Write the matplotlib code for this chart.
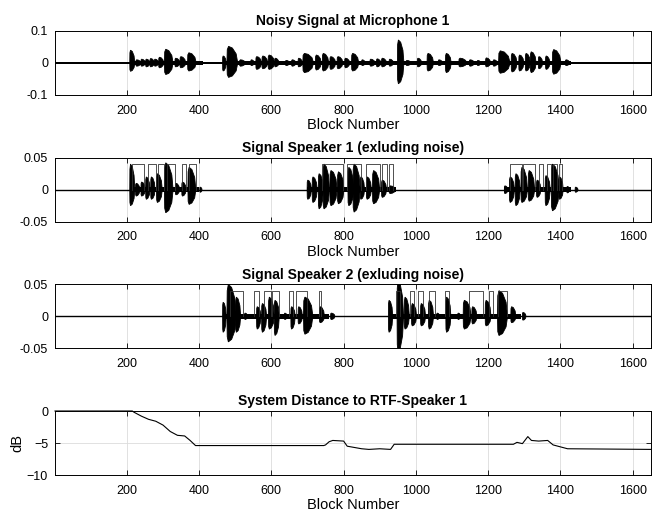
import matplotlib
matplotlib.use("Agg")
import matplotlib.pyplot as plt
from matplotlib.patches import Polygon

plt.rcParams['font.family'] = ['Liberation Sans', 'DejaVu Sans']

# ---------------- data ----------------
n_blocks = 1651

# Microphone 1: bursts (centre block, width in blocks, positive peak, negative peak)
mic_center = [215, 232, 245, 258, 270, 282, 295, 316, 340, 355, 380, 470, 492, 520, 548, 565, 582, 600, 615,
              645, 662, 680, 702, 730, 750, 770, 790, 810, 832, 855, 880, 897, 912, 932, 958, 980, 1010, 1040,
              1068, 1090, 1130, 1155, 1175, 1200, 1220, 1245, 1272, 1292, 1310, 1325, 1345, 1365, 1390, 1420]
mic_width = [14, 14, 12, 12, 12, 12, 14, 24, 14, 16, 24, 10, 30, 16, 10, 16, 16, 18, 12,
             12, 12, 12, 30, 16, 18, 16, 16, 14, 20, 10, 14, 12, 14, 12, 18, 14, 12, 18,
             12, 16, 22, 14, 10, 14, 12, 32, 16, 14, 14, 16, 12, 12, 24, 12]
mic_up = [0.040, 0.010, 0.012, 0.012, 0.014, 0.012, 0.018, 0.043, 0.015, 0.020, 0.032, 0.022, 0.052, 0.010, 0.010,
          0.020, 0.022, 0.025, 0.015, 0.008, 0.010, 0.015, 0.030, 0.025, 0.030, 0.020, 0.020, 0.015, 0.030, 0.010,
          0.012, 0.013, 0.015, 0.012, 0.072, 0.008, 0.015, 0.030, 0.010, 0.030, 0.015, 0.010, 0.008, 0.016, 0.010,
          0.038, 0.030, 0.025, 0.030, 0.035, 0.020, 0.022, 0.042, 0.010]
mic_down = [0.026, 0.010, 0.010, 0.012, 0.012, 0.010, 0.015, 0.036, 0.012, 0.015, 0.025, 0.025, 0.045, 0.010, 0.008,
            0.020, 0.018, 0.020, 0.012, 0.008, 0.010, 0.012, 0.030, 0.022, 0.025, 0.020, 0.018, 0.015, 0.025, 0.008,
            0.010, 0.012, 0.012, 0.010, 0.065, 0.008, 0.012, 0.025, 0.008, 0.030, 0.012, 0.010, 0.008, 0.012, 0.010,
            0.032, 0.028, 0.025, 0.025, 0.030, 0.018, 0.020, 0.035, 0.008]
mic_noise = 0.002
mic_active_on = [210, 465]
mic_active_off = [410, 1430]
mic_active_level = 0.005

# Speaker 1 (clean)
s1_center = [215, 230, 245, 258, 272, 290, 316, 340, 358, 380, 405, 705, 720, 737, 752, 772, 792, 820, 836, 852,
             870, 890, 912, 935, 1250, 1266, 1282, 1300, 1320, 1340, 1365, 1386, 1402, 1422, 1445]
s1_width = [14, 12, 12, 12, 12, 16, 24, 12, 12, 22, 6, 12, 14, 14, 18, 20, 18, 16, 20, 12,
            14, 20, 14, 18, 10, 14, 14, 18, 18, 12, 14, 22, 12, 8, 8]
s1_up = [0.040, 0.010, 0.012, 0.020, 0.020, 0.025, 0.042, 0.010, 0.012, 0.035, 0.004, 0.015, 0.020, 0.025, 0.040,
         0.030, 0.028, 0.035, 0.040, 0.020, 0.020, 0.030, 0.015, 0.006, 0.006, 0.020, 0.025, 0.035, 0.030, 0.015,
         0.022, 0.040, 0.020, 0.005, 0.004]
s1_down = [0.025, 0.010, 0.010, 0.015, 0.015, 0.020, 0.036, 0.008, 0.010, 0.023, 0.004, 0.015, 0.020, 0.030, 0.030,
           0.025, 0.022, 0.025, 0.035, 0.015, 0.015, 0.022, 0.012, 0.006, 0.006, 0.020, 0.025, 0.020, 0.018, 0.012,
           0.025, 0.033, 0.015, 0.005, 0.004]
s1_active_on = [210, 700, 1245]
s1_active_off = [400, 945, 1430]
s1_vad_on = [215, 258, 287, 310, 352, 372, 740, 810, 862, 906, 925, 1262, 1298, 1340, 1362, 1380, 1396]
s1_vad_off = [248, 280, 303, 332, 365, 390, 797, 848, 900, 920, 938, 1295, 1330, 1352, 1375, 1392, 1405]

# Speaker 2 (clean)
s2_center = [470, 490, 508, 530, 565, 580, 600, 615, 640, 660, 680, 702, 740, 770, 930, 957, 975, 995, 1020,
             1042, 1062, 1090, 1120, 1142, 1162, 1200, 1240, 1270, 1300]
s2_width = [10, 26, 14, 8, 12, 14, 16, 14, 8, 12, 12, 26, 14, 12, 12, 18, 14, 14, 14,
            14, 8, 14, 8, 22, 14, 16, 28, 14, 10]
s2_up = [0.022, 0.050, 0.030, 0.005, 0.015, 0.020, 0.030, 0.025, 0.005, 0.015, 0.015, 0.030, 0.015, 0.005, 0.025,
         0.055, 0.030, 0.020, 0.020, 0.025, 0.005, 0.030, 0.005, 0.025, 0.015, 0.025, 0.040, 0.015, 0.006]
s2_down = [0.025, 0.040, 0.025, 0.005, 0.020, 0.025, 0.020, 0.030, 0.005, 0.020, 0.012, 0.028, 0.010, 0.005, 0.025,
           0.055, 0.020, 0.015, 0.015, 0.020, 0.005, 0.025, 0.005, 0.020, 0.012, 0.015, 0.030, 0.010, 0.006]
s2_active_on = [465, 925]
s2_active_off = [760, 1290]
s2_vad_on = [485, 552, 580, 603, 650, 668, 733, 944, 985, 1005, 1036, 1082, 1148, 1203, 1228]
s2_vad_off = [522, 565, 600, 620, 660, 700, 738, 955, 996, 1020, 1052, 1093, 1186, 1214, 1252]
vad_level = 0.04
speech_floor = 0.004

# System distance (dB)
dist_block = [1, 215, 220, 240, 260, 280, 300, 320, 340, 360, 375, 390, 745, 750, 760, 770, 800, 810, 830, 850,
              870, 900, 930, 940, 1270, 1280, 1295, 1310, 1320, 1340, 1365, 1380, 1400, 1420, 1651]
dist_db = [0, 0, -0.2, -0.8, -1.3, -1.6, -2.2, -3.2, -3.8, -3.9, -4.6, -5.4, -5.4, -5.3, -4.8, -4.6, -4.7, -5.5,
           -5.7, -5.9, -6.0, -5.9, -6.0, -5.2, -5.2, -4.9, -5.1, -4.0, -4.6, -4.7, -4.6, -5.3, -5.6, -5.9, -6.0]

xticks = [200, 400, 600, 800, 1000, 1200, 1400, 1600]

# ---------------- figure ----------------
fig = plt.figure(figsize=(6.53, 5.13), dpi=100)
W, H = 653, 513
left_px, right_px = 55, 651
height_px = 64
tops = [31, 157.7, 284.3, 411]

TICK_FS = 9
LABEL_FS = 10.5
TITLE_FS = 10


def make_ax(top):
    ax = fig.add_axes([left_px / W, 1 - (top + height_px) / H, (right_px - left_px) / W, height_px / H])
    ax.set_xlim(1, n_blocks)
    ax.set_xticks(xticks)
    ax.grid(True, color='#dcdcdc', linewidth=0.6)
    ax.set_axisbelow(True)
    ax.tick_params(direction='in', top=True, right=True, length=3.5, width=0.6, labelsize=TICK_FS)
    ax.tick_params(axis='x', pad=7)
    ax.tick_params(axis='y', pad=5)
    for sp in ax.spines.values():
        sp.set_linewidth(0.7)
    return ax


def draw_bursts(ax, centers, widths, ups, downs):
    for c, w, u, d in zip(centers, widths, ups, downs):
        s = c - w / 2
        e = c + w / 2
        verts = [(s, 0), (s + 0.03 * w, 0.8 * u), (s + 0.15 * w, u), (s + 0.5 * w, 0.9 * u),
                 (s + 0.85 * w, 0.55 * u), (e, 0),
                 (s + 0.85 * w, -0.55 * d), (s + 0.5 * w, -0.9 * d), (s + 0.15 * w, -d), (s + 0.03 * w, -0.8 * d)]
        ax.add_patch(Polygon(verts, closed=True, facecolor='black', edgecolor='black', linewidth=0.6, zorder=3))


def draw_active(ax, ons, offs, level):
    for s, e in zip(ons, offs):
        ax.fill_between([s, e], [-level, -level], [level, level], color='black', linewidth=0, zorder=2.5)


def draw_vad(ax, ons, offs, level):
    for s, e in zip(ons, offs):
        ax.plot([s, s, e, e], [0, level, level, 0], color='0.2', linewidth=0.6, zorder=4)


title_kw = dict(fontsize=TITLE_FS, fontweight='bold', pad=4)

# Panel 1
ax1 = make_ax(tops[0])
ax1.set_ylim(-0.1, 0.1)
ax1.set_yticks([-0.1, 0, 0.1])
ax1.set_yticklabels(['-0.1', '0', '0.1'])
ax1.fill_between([1, n_blocks], [-mic_noise, -mic_noise], [mic_noise, mic_noise], color='black', linewidth=0, zorder=2)
draw_active(ax1, mic_active_on, mic_active_off, mic_active_level)
draw_bursts(ax1, mic_center, mic_width, mic_up, mic_down)
ax1.set_title('Noisy Signal at Microphone 1', **title_kw)
ax1.set_xlabel('Block Number', fontsize=LABEL_FS, labelpad=1)

# Panel 2
ax2 = make_ax(tops[1])
ax2.set_ylim(-0.05, 0.05)
ax2.set_yticks([-0.05, 0, 0.05])
ax2.set_yticklabels(['-0.05', '0', '0.05'])
ax2.plot([1, n_blocks], [0, 0], color='black', linewidth=1.0, zorder=2)
draw_active(ax2, s1_active_on, s1_active_off, speech_floor)
draw_bursts(ax2, s1_center, s1_width, s1_up, s1_down)
draw_vad(ax2, s1_vad_on, s1_vad_off, vad_level)
ax2.set_title('Signal Speaker 1 (exluding noise)', **title_kw)
ax2.set_xlabel('Block Number', fontsize=LABEL_FS, labelpad=1)

# Panel 3
ax3 = make_ax(tops[2])
ax3.set_ylim(-0.05, 0.05)
ax3.set_yticks([-0.05, 0, 0.05])
ax3.set_yticklabels(['-0.05', '0', '0.05'])
ax3.plot([1, n_blocks], [0, 0], color='black', linewidth=1.0, zorder=2)
draw_active(ax3, s2_active_on, s2_active_off, speech_floor)
draw_bursts(ax3, s2_center, s2_width, s2_up, s2_down)
draw_vad(ax3, s2_vad_on, s2_vad_off, vad_level)
ax3.set_title('Signal Speaker 2 (exluding noise)', **title_kw)

# Panel 4
ax4 = make_ax(tops[3])
ax4.set_ylim(-10, 0)
ax4.set_yticks([-10, -5, 0])
ax4.plot(dist_block, dist_db, color='black', linewidth=0.8, zorder=3, clip_on=False)
ax4.set_title('System Distance to RTF-Speaker 1', **title_kw)
ax4.set_xlabel('Block Number', fontsize=LABEL_FS, labelpad=1)
ax4.set_ylabel('dB', fontsize=LABEL_FS, labelpad=2)

fig.savefig('out.png', dpi=100)
